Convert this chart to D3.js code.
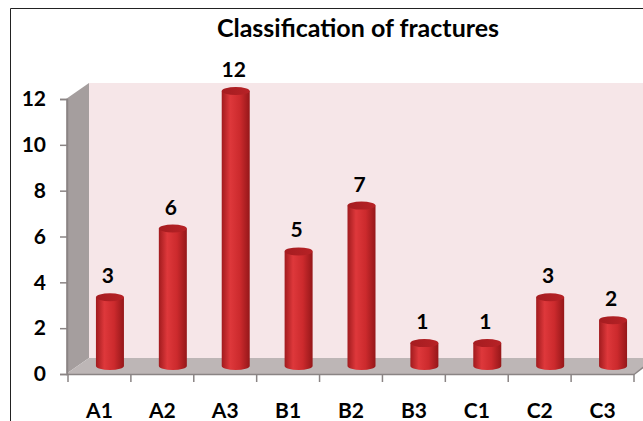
<!DOCTYPE html>
<meta charset="utf-8">
<style>
body { margin: 0; background: #fff; }
text { font-family: Lato, "Open Sans", sans-serif; font-weight: bold; fill: #000; }
</style>
<body>
<script src="https://d3js.org/d3.v7.min.js"></script>
<script>

var categories = ["A1", "A2", "A3", "B1", "B2", "B3", "C1", "C2", "C3"];
var counts = [3, 6, 12, 5, 7, 1, 1, 3, 2];
var yTicks = [0, 2, 4, 6, 8, 10, 12];
var title = "Classification of fractures";

var width = 643, height = 421;
var depthX = 21, depthY = -16;

var svg = d3.select("body").append("svg")
    .attr("width", width)
    .attr("height", height);

var defs = svg.append("defs");

var side = defs.append("linearGradient").attr("id", "cyl")
    .attr("x1", "0%").attr("x2", "100%").attr("y1", "0%").attr("y2", "0%");
side.append("stop").attr("offset", "0%").attr("stop-color", "#a11b1e");
side.append("stop").attr("offset", "30%").attr("stop-color", "#de383b");
side.append("stop").attr("offset", "65%").attr("stop-color", "#cc2a2d");
side.append("stop").attr("offset", "100%").attr("stop-color", "#951719");

var cap = defs.append("linearGradient").attr("id", "cap")
    .attr("x1", "0%").attr("x2", "100%").attr("y1", "0%").attr("y2", "0%");
cap.append("stop").attr("offset", "0%").attr("stop-color", "#a51c20");
cap.append("stop").attr("offset", "100%").attr("stop-color", "#b72226");

var x = d3.scaleBand()
    .domain(categories)
    .range([68, 634]);

var y = d3.scaleLinear()
    .domain([0, 12])
    .range([374, 99]);

// outer frame
svg.append("path")
    .attr("d", "M10.5," + height + "V8.5H" + width)
    .attr("fill", "none")
    .attr("stroke", "#222")
    .attr("stroke-width", 1);

svg.append("text")
    .attr("x", 358)
    .attr("y", 37)
    .attr("text-anchor", "middle")
    .style("font-size", "25px")
    .text(title);

var x0 = x.range()[0], x1 = x.range()[1];
var y0 = y(0), yTop = y(12);

// back wall
svg.append("rect")
    .attr("x", x0 + depthX)
    .attr("y", yTop + depthY)
    .attr("width", width - x0)
    .attr("height", y0 - yTop)
    .attr("fill", "#f6e6e8");

// left wall
svg.append("polygon")
    .attr("points", [[x0 - 2, y0], [x0 - 2, yTop], [x0 + depthX, yTop + depthY], [x0 + depthX, y0 + depthY]].join(" "))
    .attr("fill", "#a59e9e");

// floor
svg.append("polygon")
    .attr("points", [[x0 - 2, y0], [x1, y0], [x1 + depthX, y0 + depthY], [x0 + depthX, y0 + depthY]].join(" "))
    .attr("fill", "#bdb6b6");

// axes
var yAxis = d3.axisLeft(y)
    .tickValues(yTicks)
    .tickSize(7)
    .tickPadding(14);

svg.append("g")
    .attr("transform", "translate(" + (x0 - 1) + ",0)")
    .call(yAxis)
    .call(function(g) {
      g.select(".domain").attr("stroke", "#8a8484").attr("stroke-width", 1.5);
      g.selectAll(".tick line").attr("stroke", "#8a8484").attr("stroke-width", 1.5);
      g.selectAll(".tick text").style("font-size", "21px").style("font-family", "Lato, sans-serif").style("font-weight", "bold");
    });

var xAxis = d3.axisBottom(x)
    .tickSize(0)
    .tickPadding(29);

var xg = svg.append("g")
    .attr("transform", "translate(0," + y0 + ")")
    .call(xAxis);
xg.select(".domain").remove();
xg.selectAll(".tick text").style("font-size", "21px").style("font-family", "Lato, sans-serif").style("font-weight", "bold");

svg.append("line")
    .attr("x1", x0 - 2).attr("x2", x1)
    .attr("y1", y0 + 0.5).attr("y2", y0 + 0.5)
    .attr("stroke", "#8a8484").attr("stroke-width", 1.5);
svg.append("line")
    .attr("x1", x1).attr("x2", x1 + depthX)
    .attr("y1", y0 + 0.5).attr("y2", y0 + depthY)
    .attr("stroke", "#8a8484").attr("stroke-width", 1.5);

svg.selectAll(".xtick")
  .data(d3.range(categories.length + 1))
  .enter().append("line")
    .attr("class", "xtick")
    .attr("x1", function(i) { return x0 + i * x.bandwidth(); })
    .attr("x2", function(i) { return x0 + i * x.bandwidth(); })
    .attr("y1", y0)
    .attr("y2", y0 + 8)
    .attr("stroke", "#8a8484")
    .attr("stroke-width", 1.5);

// cylinders
var barW = 28, ry = 4;
var bars = svg.selectAll(".bar")
  .data(categories.map(function(c, i) { return {cat: c, value: counts[i]}; }))
  .enter().append("g")
    .attr("class", "bar");

function barX(d) { return x(d.cat) + x.bandwidth() / 2 + depthX / 2; }
function barBase(d) { return y(0) + depthY / 2; }
function barTop(d) { return y(d.value) + depthY / 2; }

bars.append("path")
    .attr("d", function(d) {
      var l = barX(d) - barW / 2, r = barX(d) + barW / 2;
      return "M" + l + "," + barTop(d) +
        "V" + barBase(d) +
        "A" + (barW / 2) + "," + ry + " 0 0 0 " + r + "," + barBase(d) +
        "V" + barTop(d) + "Z";
    })
    .attr("fill", "url(#cyl)");

bars.append("ellipse")
    .attr("cx", barX)
    .attr("cy", barTop)
    .attr("rx", barW / 2)
    .attr("ry", ry)
    .attr("fill", "url(#cap)");

bars.append("text")
    .attr("x", function(d) { return barX(d) - 2; })
    .attr("y", function(d) { return barTop(d) - 14; })
    .attr("text-anchor", "middle")
    .style("font-size", "21px")
    .text(function(d) { return d.value; });

</script>
</body>
